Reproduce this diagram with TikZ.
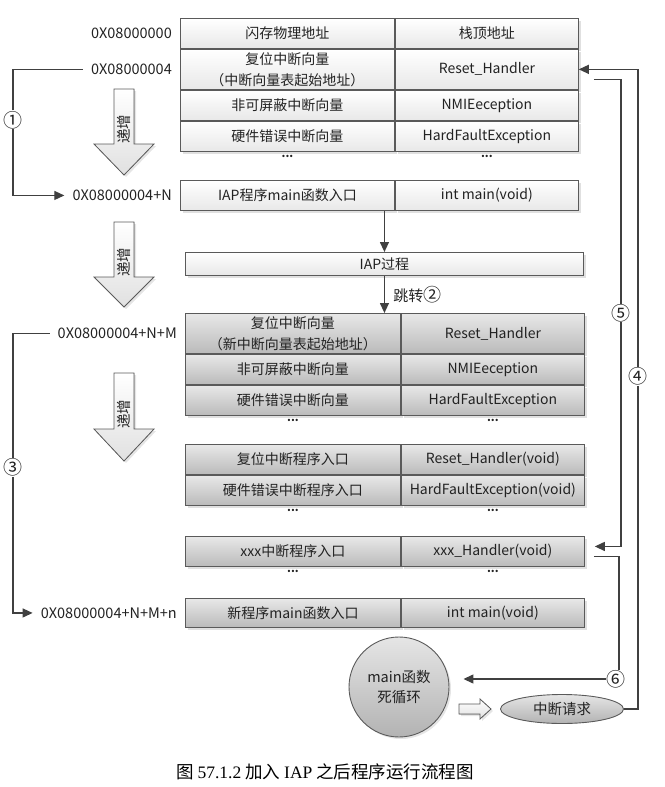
\documentclass[tikz,border=0pt]{standalone}
\usepackage{fontspec}
\setmainfont{Noto Sans CJK SC}
\newfontfamily\capfont{Liberation Serif}
\usepackage{tikz}
\usetikzlibrary{arrows.meta,positioning,shadows,shapes.geometric,calc}
\definecolor{edge}{HTML}{5A5A5A}
\definecolor{wire}{HTML}{404040}
\definecolor{ink}{HTML}{222222}

\begin{document}
\begin{tikzpicture}[x=1pt,y=-1pt,
  node distance=0pt,
  cell/.style={draw=edge,line width=0.9pt,inner sep=0pt,minimum height=30pt,align=center,
               text=ink,font=\fontsize{14}{21}\selectfont},
  lightcell/.style={cell,top color=white,bottom color=black!9,
               drop shadow={shadow xshift=3pt,shadow yshift=-3pt,fill=black!12,opacity=1}},
  graycell/.style={cell,top color=black!9,bottom color=black!27,
               drop shadow={shadow xshift=3pt,shadow yshift=-3pt,fill=black!12,opacity=1}},
  lw/.style={minimum width=214pt},
  rw/.style={minimum width=183pt},
  tall/.style={minimum height=40pt},
  addr/.style={text=ink,font=\fontsize{14.5}{16}\selectfont,inner xsep=8pt,inner ysep=2pt},
  dotrow/.style={anchor=base,inner sep=0pt,font=\bfseries\fontsize{11}{11}\selectfont,text=ink},
  wire/.style={draw=wire,line width=1.3pt,-{Triangle[length=10pt,width=9pt]}},
  num/.style={fill=white,inner sep=0.5pt,text=ink,font=\fontsize{19}{19}\selectfont},
  blockarrow/.style={draw=edge,line width=0.8pt,top color=white,bottom color=black!12,
               drop shadow={shadow xshift=2pt,shadow yshift=-2pt,fill=black!10,opacity=1}},
  roundbox/.style={draw=edge,line width=0.9pt,top color=black!10,bottom color=black!30,align=center,
               text=ink,font=\fontsize{14.5}{20}\selectfont}
]
\useasboundingbox (0,0) rectangle (664,787);

\node[lightcell,lw,anchor=north west] (t1l) at (180,18) {闪存物理地址};
\node[lightcell,rw,right=of t1l] (t1r) {栈顶地址};
\node[lightcell,lw,tall,below=of t1l] (t2l) {复位中断向量\\（中断向量表起始地址）};
\node[lightcell,rw,tall,right=of t2l] (t2r) {Reset\_Handler};
\node[lightcell,lw,below=of t2l] (t3l) {非可屏蔽中断向量};
\node[lightcell,rw,right=of t3l] (t3r) {NMIEeception};
\node[lightcell,lw,below=of t3l] (t4l) {硬件错误中断向量};
\node[lightcell,rw,right=of t4l] (t4r) {HardFaultException};
\node[dotrow] at ([yshift=-6pt]t4l.south) {...};
\node[dotrow] at ([yshift=-6pt]t4r.south) {...};

\node[lightcell,lw,anchor=north west] (m0l) at (180,180) {IAP程序main函数入口};
\node[lightcell,rw,right=of m0l] (m0r) {int main(void)};

\node[lightcell,minimum width=398pt,minimum height=23pt,anchor=north west] (iap) at (185,252) {IAP过程};

\node[graycell,lw,tall,minimum width=215pt,anchor=north west] (g1l) at (185,313) {复位中断向量\\（新中断向量表起始地址）};
\node[graycell,rw,tall,right=of g1l] (g1r) {Reset\_Handler};
\node[graycell,lw,minimum width=215pt,below=of g1l] (g2l) {非可屏蔽中断向量};
\node[graycell,rw,right=of g2l] (g2r) {NMIEeception};
\node[graycell,lw,minimum width=215pt,below=of g2l] (g3l) {硬件错误中断向量};
\node[graycell,rw,right=of g3l] (g3r) {HardFaultException};
\node[dotrow] at ([yshift=-6pt]g3l.south) {...};
\node[dotrow] at ([yshift=-6pt]g3r.south) {...};

\node[graycell,lw,minimum width=215pt,anchor=north west] (h1l) at (185,444) {复位中断程序入口};
\node[graycell,rw,right=of h1l] (h1r) {Reset\_Handler(void)};
\node[graycell,lw,minimum width=215pt,below=of h1l] (h2l) {硬件错误中断程序入口};
\node[graycell,rw,right=of h2l] (h2r) {HardFaultException(void)};
\node[dotrow] at ([yshift=-6pt]h2l.south) {...};
\node[dotrow] at ([yshift=-6pt]h2r.south) {...};

\node[graycell,lw,minimum width=215pt,anchor=north west] (x0l) at (185,536) {xxx中断程序入口};
\node[graycell,rw,right=of x0l] (x0r) {xxx\_Handler(void)};
\node[dotrow] at ([yshift=-6pt]x0l.south) {...};
\node[dotrow] at ([yshift=-6pt]x0r.south) {...};

\node[graycell,lw,minimum width=215pt,minimum height=29pt,anchor=north west] (n0l) at (185,598) {新程序main函数入口};
\node[graycell,rw,minimum height=29pt,right=of n0l] (n0r) {int main(void)};

\node[addr,left=of t1l] (a1) {0X08000000};
\node[addr,left=of t2l] (a2) {0X08000004};
\node[addr,left=of m0l] (a3) {0X08000004+N};
\node[addr,left=of g1l] (a4) {0X08000004+N+M};
\node[addr,left=of n0l] (a5) {0X08000004+N+M+n};

\foreach \top/\neck/\tip in {89/144/175,222/277/307,373/429/461}{
  \filldraw[blockarrow] (114,\top) -- (134,\top) -- (134,\neck) -- (154,\neck) -- (124,\tip)
    -- (94,\neck) -- (114,\neck) -- cycle;
  \node[rotate=90,text=ink,font=\fontsize{14.5}{14.5}\selectfont] at (124,\neck-15) {递增};
}

\node[circle,roundbox,minimum size=100pt,inner sep=0pt,
      drop shadow={shadow xshift=2pt,shadow yshift=-2pt,fill=black!10,opacity=1}] (loop) at (399,687) {main函数\\死循环};
\node[ellipse,roundbox,minimum width=123pt,minimum height=29pt,inner sep=0pt] (irq) at (562,709) {中断请求};
\filldraw[blockarrow] (459,704) -- (480,704) -- (480,699) -- (491,709) -- (480,719) -- (480,714)
  -- (459,714) -- cycle;

\draw[wire] (iap.north |- m0l.south) -- (iap.north);
\draw[wire] (iap.south) -- (iap.south |- g1l.north) node[midway,right=5pt,text=ink,font=\fontsize{15}{15}\selectfont] {跳转{\fontsize{18}{18}\selectfont ②}};

\coordinate (lx) at (13,0);
\draw[wire] (a2.west) -- (a2.west -| lx) |- node[num,pos=0.2] {①} (a3.west);
\draw[wire] (a4.west) -- (a4.west -| lx) |- node[num,pos=0.24] {③} (a5.west);

\coordinate (rx4) at (638,0);
\coordinate (rx5) at (621,0);
\coordinate (rx6) at (619,0);
\coordinate (s5) at ($(t2r.east)+(15,10)$);
\coordinate (e5) at ($(x0r.east)+(10,-5)$);
\coordinate (s6) at ($(x0r.east)+(9,5)$);
\coordinate (e6) at ($(loop.east)+(14,-8)$);
\draw[wire] (irq.east) -- (irq.east -| rx4) |- node[num,pos=0.26] {④} (t2r.east);
\draw[wire] (s5) -- (s5 -| rx5) |- node[num,pos=0.25] {⑤} (e5);
\draw[wire] (s6) -- (s6 -| rx6) |- node[num,pos=0.51] {⑥} (e6);

\node[font=\fontsize{17.5}{19}\selectfont] (cap) at (325,772) {图 {\capfont 57.1.2} 加入 {\capfont IAP} 之后程序运行流程图};
\end{tikzpicture}
\end{document}
